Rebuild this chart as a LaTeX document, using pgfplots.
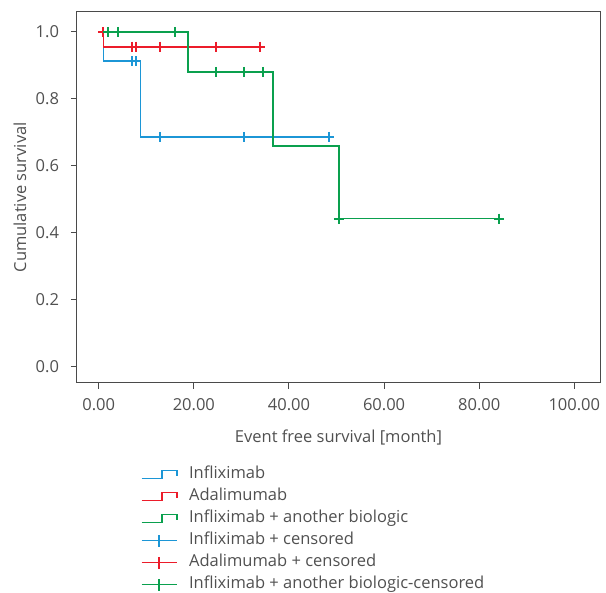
\documentclass[border=0pt]{standalone}
\usepackage{pgfplots}
\pgfplotsset{compat=1.18}
\usepackage{fontspec}
\setmainfont{Open Sans}
\definecolor{cblue}{HTML}{1C96D6}
\definecolor{cred}{HTML}{EC1C2A}
\definecolor{cgreen}{HTML}{0AA04E}
\definecolor{ctext}{HTML}{505050}
\definecolor{caxis}{HTML}{4A4A4A}
\begin{document}
\begin{tikzpicture}
\path[use as bounding box] (0,0) rectangle (606pt,-593pt);
\begin{axis}[
  anchor=north west, at={(77pt,-11.5pt)},
  width=523pt, height=371.5pt, scale only axis,
  xmin=-4.56, xmax=105.4, ymin=-0.048, ymax=1.061,
  axis line style={caxis, line width=1pt},
  tick style={caxis, line width=1pt},
  tick align=outside, major tick length=6pt,
  xtick pos=bottom, ytick pos=left,
  xtick={0,20,40,60,80,100}, ytick={0,0.2,0.4,0.6,0.8,1.0},
  x tick label style={/pgf/number format/fixed, /pgf/number format/fixed zerofill, /pgf/number format/precision=2, /pgf/number format/assume math mode=true},
  y tick label style={/pgf/number format/fixed, /pgf/number format/fixed zerofill, /pgf/number format/precision=1, /pgf/number format/assume math mode=true},
  tick label style={font=\fontsize{16.5}{19}\selectfont, text=ctext},
  xticklabel style={yshift=-6pt},
  yticklabel style={xshift=-8.5pt},
  xlabel={Event free survival [month]},
  ylabel={Cumulative survival},
  label style={font=\fontsize{16.5}{19}\selectfont, text=ctext},
  xlabel style={at={(axis description cs:0.5,-0.148)}, anchor=center},
  ylabel style={at={(axis description cs:-0.109,0.5)}, anchor=center},
  legend cell align=left,
  legend style={draw=none, fill=none, at={(axis description cs:0.116,-0.219)}, anchor=north west,
    font=\fontsize{16.5}{19}\selectfont, text=ctext, row sep=6pt,
    nodes={inner ysep=0pt, inner xsep=6.5pt, text height=12pt, text depth=4pt}},
  every axis plot/.append style={line width=1.8pt},
]
% KM step curves
\addplot[cblue, const plot mark left, mark=none,
  legend image code/.code={\draw[cblue,line width=1.6pt] (0pt,-4pt) -- (20pt,-4pt) -- (20pt,4pt) -- (35pt,4pt) -- (35pt,-1pt);}]
  coordinates {(1,1) (1,0.913) (8.8,0.687) (48.5,0.687)};
\addlegendentry{\hspace{5pt}Infliximab}
\addplot[cred, const plot mark left, mark=none,
  legend image code/.code={\draw[cred,line width=1.6pt] (0pt,-4pt) -- (20pt,-4pt) -- (20pt,4pt) -- (35pt,4pt) -- (35pt,-1pt);}]
  coordinates {(1,1) (1,0.956) (33.9,0.956)};
\addlegendentry{\hspace{5pt}Adalimumab}
\addplot[cgreen, const plot mark left, mark=none,
  legend image code/.code={\draw[cgreen,line width=1.6pt] (0pt,-4pt) -- (20pt,-4pt) -- (20pt,4pt) -- (35pt,4pt) -- (35pt,-1pt);}]
  coordinates {(1,1) (18.7,0.881) (36.6,0.66) (50.5,0.443) (84.2,0.443)};
\addlegendentry{\hspace{5pt}Infliximab + another biologic}
% censored marks
\addplot[cblue, only marks, mark=+, mark size=5pt, mark options={line width=2pt},
  legend image code/.code={\draw[cblue,line width=1.7pt] (0pt,0pt) -- (35pt,0pt) (17.5pt,-6pt) -- (17.5pt,6pt);}]
  coordinates {(6.9,0.913) (7.8,0.913) (12.9,0.687) (30.6,0.687) (48.5,0.687)};
\addlegendentry{\hspace{5pt}Infliximab + censored}
\addplot[cred, only marks, mark=+, mark size=5pt, mark options={line width=2pt},
  legend image code/.code={\draw[cred,line width=1.7pt] (0pt,0pt) -- (35pt,0pt) (17.5pt,-6pt) -- (17.5pt,6pt);}]
  coordinates {(0.9,1) (6.9,0.956) (7.8,0.956) (12.9,0.956) (24.6,0.956) (33.9,0.956)};
\addlegendentry{\hspace{5pt}Adalimumab + censored}
\addplot[cgreen, only marks, mark=+, mark size=5pt, mark options={line width=2pt},
  legend image code/.code={\draw[cgreen,line width=1.7pt] (0pt,0pt) -- (35pt,0pt) (17.5pt,-6pt) -- (17.5pt,6pt);}]
  coordinates {(2.0,1) (4.1,1) (16.0,1) (24.7,0.881) (30.6,0.881) (34.6,0.881) (50.5,0.443) (84.2,0.443)};
\addlegendentry{\hspace{5pt}Infliximab + another biologic-censored}
\end{axis}
\end{tikzpicture}
\end{document}
